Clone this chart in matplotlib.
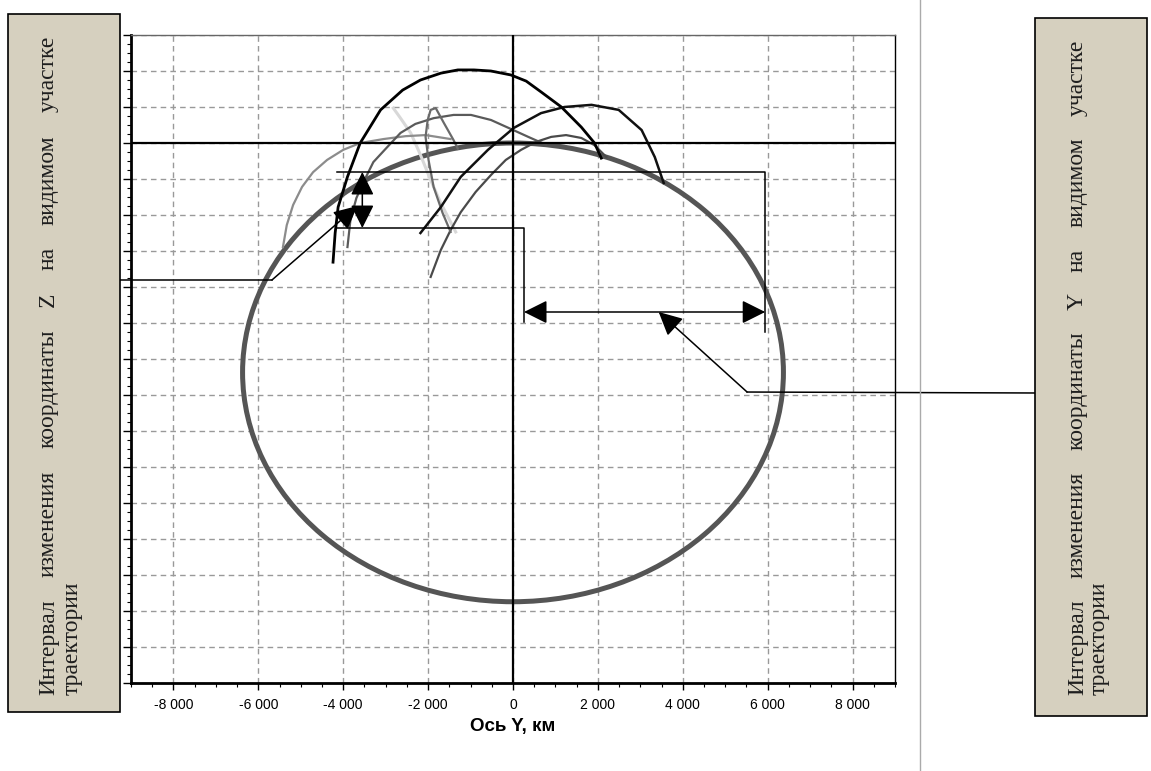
import matplotlib
matplotlib.use("Agg")
import matplotlib.pyplot as plt
from matplotlib.patches import Ellipse, Rectangle
from matplotlib.lines import Line2D
from matplotlib.ticker import MultipleLocator, FuncFormatter

# Earth surface (km), centre below the origin
earth_radius = 6371
earth_centre = (0, -6371)

# trajectories, Y / Z coordinates in km
traj_a_y = [-4240, -4190, -4120, -3900, -3600, -3120, -2600, -2180, -1700, -1300,
            -920, -520, -50, 310, 660, 1140, 1610, 1920, 2080]
traj_a_z = [-3310, -2500, -1780, -940, 0, 920, 1470, 1750, 1940, 2030,
            2030, 2000, 1890, 1720, 1420, 1000, 440, 0, -420]

traj_b_y = [-2180, -1700, -1230, -590, 20, 660, 1210, 1850, 2490, 3030, 3340, 3550]
traj_b_z = [-2500, -1780, -940, -190, 420, 830, 1000, 1060, 920, 360, -390, -1110]

traj_c_y = [-5420, -5330, -5180, -4970, -4710, -4380, -4000, -3600, -3050, -2530, -2060, -1470]
traj_c_z = [-2890, -2280, -1720, -1220, -810, -470, -190, 0, 110, 190, 220, 110]

traj_d_y = [-3900, -3830, -3690, -3500, -3290, -2960, -2650, -2300, -1870, -1400,
            -990, -520, -50, 360, 780]
traj_d_z = [-2890, -2140, -1530, -1030, -530, -110, 280, 530, 690, 780,
            780, 640, 390, 170, -50]

traj_e_y = [-1940, -1700, -1470, -1230, -880, -520, -170, 190, 540, 900, 1250, 1610, 1920, 2200]
traj_e_z = [-3720, -2970, -2420, -1920, -1360, -890, -470, -190, 30, 170, 220, 140, -60, -390]

traj_f_y = [-1470, -1660, -1870, -1990, -2060, -2010, -1940, -1820, -1630, -1400, -1300]
traj_f_z = [-2470, -1940, -1220, -470, 170, 640, 920, 970, 560, 80, -160]

traj_g_y = [-2820, -2650, -2410, -2180, -1940, -1700, -1350]
traj_g_z = [970, 690, 280, -330, -1030, -1670, -2470]

# interval markers (km)
z_top, z_bottom = -806, -2361
y_left, y_right = 260, 5941
z_arrow_x = -3550
y_arrow_z = -4694
bracket_x0 = -4142
z_stub_end = -5250
y_stub_end = -4972
left_link = [(-9278, -3806), (-5680, -3806), (-3669, -1750)]
right_link = [(12379, -6944), (5515, -6917), (3432, -4694)]

left_words = ["Интервал", "изменения", "координаты", "Z", "на", "видимом", "участке"]
right_words = ["Интервал", "изменения", "координаты", "Y", "на", "видимом", "участке"]
last_line = "траектории"

plt.rcParams['font.family'] = ['Liberation Sans', 'DejaVu Sans']

fig = plt.figure(figsize=(11.51, 7.71), dpi=100)
ax = fig.add_axes([0.1138, 0.1141, 0.6638, 0.8405])

ax.set_xlim(-9000, 9000)
ax.set_ylim(-15000, 3000)

ax.xaxis.set_major_locator(MultipleLocator(2000))
ax.xaxis.set_minor_locator(MultipleLocator(500))
ax.yaxis.set_major_locator(MultipleLocator(1000))
ax.yaxis.set_minor_locator(MultipleLocator(250))
ax.xaxis.set_major_formatter(FuncFormatter(lambda v, p: f"{int(v):,}".replace(",", " ")))
ax.tick_params(axis='x', which='major', length=5, width=1, labelsize=10, pad=6, direction='out')
ax.tick_params(axis='x', which='minor', length=3, width=0.8, direction='out')
ax.tick_params(axis='y', which='major', length=6, width=1, labelleft=False, direction='out')
ax.tick_params(axis='y', which='minor', length=3, width=0.8, direction='out')

ax.grid(True, which='major', color='#999999', linestyle=(0, (4, 3)), linewidth=1)
for side in ['left', 'bottom']:
    ax.spines[side].set_linewidth(2)
ax.spines['right'].set_linewidth(1)
ax.spines['top'].set_linewidth(1)
ax.spines['top'].set_color('#666666')

ax.axvline(0, color='black', lw=1.6, zorder=4)
ax.axhline(0, color='black', lw=1.6, zorder=4)

ax.add_patch(Ellipse(earth_centre, 2 * earth_radius, 2 * earth_radius,
                     fill=False, edgecolor='#555555', lw=3.6, zorder=3))

ax.plot(traj_g_y, traj_g_z, color='#d8d8d8', lw=2.2, zorder=3)
ax.plot(traj_c_y, traj_c_z, color='#8c8c8c', lw=1.6, zorder=3)
ax.plot(traj_d_y, traj_d_z, color='#5a5a5a', lw=1.6, zorder=3)
ax.plot(traj_e_y, traj_e_z, color='#4a4a4a', lw=1.6, zorder=3)
ax.plot(traj_f_y, traj_f_z, color='#6a6a6a', lw=1.6, zorder=3)
ax.plot(traj_b_y, traj_b_z, color='#111111', lw=1.8, zorder=3)
ax.plot(traj_a_y, traj_a_z, color='black', lw=2.0, zorder=3)

ax.set_xlabel("Ось Y, км", fontsize=13.5, fontweight='bold', labelpad=4)

# interval brackets
ln = dict(color='black', lw=1.1, zorder=5, clip_on=False)
ax.plot([bracket_x0, y_right, y_right], [z_top, z_top, z_stub_end], **ln)
ax.plot([bracket_x0, y_left, y_left], [z_bottom, z_bottom, y_stub_end], **ln)

head = '-|>,head_length=0.6,head_width=0.3'
dhead = '<|-|>,head_length=0.6,head_width=0.3'
ax.annotate('', xy=(z_arrow_x, z_top), xytext=(z_arrow_x, z_bottom),
            arrowprops=dict(arrowstyle=dhead, color='black', lw=1.1, mutation_scale=24,
                            shrinkA=0, shrinkB=0), zorder=6)
ax.annotate('', xy=(y_right, y_arrow_z), xytext=(y_left, y_arrow_z),
            arrowprops=dict(arrowstyle=dhead, color='black', lw=1.1, mutation_scale=24,
                            shrinkA=0, shrinkB=0), zorder=6)

# leader lines to the text boxes
ax.plot([p[0] for p in left_link[:2]], [p[1] for p in left_link[:2]], **ln)
ax.annotate('', xy=left_link[2], xytext=left_link[1], annotation_clip=False,
            arrowprops=dict(arrowstyle=head, color='black', lw=1.1, mutation_scale=24,
                            shrinkA=0, shrinkB=0), zorder=6)
ax.plot([p[0] for p in right_link[:2]], [p[1] for p in right_link[:2]], **ln)
ax.annotate('', xy=right_link[2], xytext=right_link[1], annotation_clip=False,
            arrowprops=dict(arrowstyle=head, color='black', lw=1.1, mutation_scale=24,
                            shrinkA=0, shrinkB=0), zorder=6)

# separator line
fig.add_artist(Line2D([0.7993, 0.7993], [0.0, 1.0], color='#aaaaaa', lw=1))

# text boxes
box_color = '#d6d0bf'
fig.add_artist(Rectangle((0.0070, 0.0765), 0.0973, 0.9053, facecolor=box_color,
                         edgecolor='black', lw=1.2, zorder=10))
fig.add_artist(Rectangle((0.8992, 0.0713), 0.0973, 0.9054, facecolor=box_color,
                         edgecolor='black', lw=1.2, zorder=10))

serif = ['Liberation Serif', 'DejaVu Serif']
W, H = 1151, 771
text_kw = dict(rotation=90, rotation_mode='anchor', ha='left', va='baseline',
               family=serif, fontsize=17, color='#1e1e1e', zorder=11)


def justified_column(words, x_px, y_start_px, y_end_px):
    # first line of the text box is stretched over the full box height
    texts = [fig.text(x_px / W, 1 - y_start_px / H, w, **text_kw) for w in words]
    renderer = fig.canvas.get_renderer()
    sizes = [t.get_window_extent(renderer).height for t in texts]
    gap = ((y_start_px - y_end_px) - sum(sizes)) / (len(words) - 1)
    pos = y_start_px
    for t, s in zip(texts, sizes):
        t.set_position((x_px / W, 1 - pos / H))
        pos -= s + gap


justified_column(left_words, 54, 695, 36)
fig.text(78 / W, 1 - 695 / H, last_line, **text_kw)
justified_column(right_words, 1083, 695, 40)
fig.text(1105 / W, 1 - 695 / H, last_line, **text_kw)

fig.savefig("out.png", dpi=100)
